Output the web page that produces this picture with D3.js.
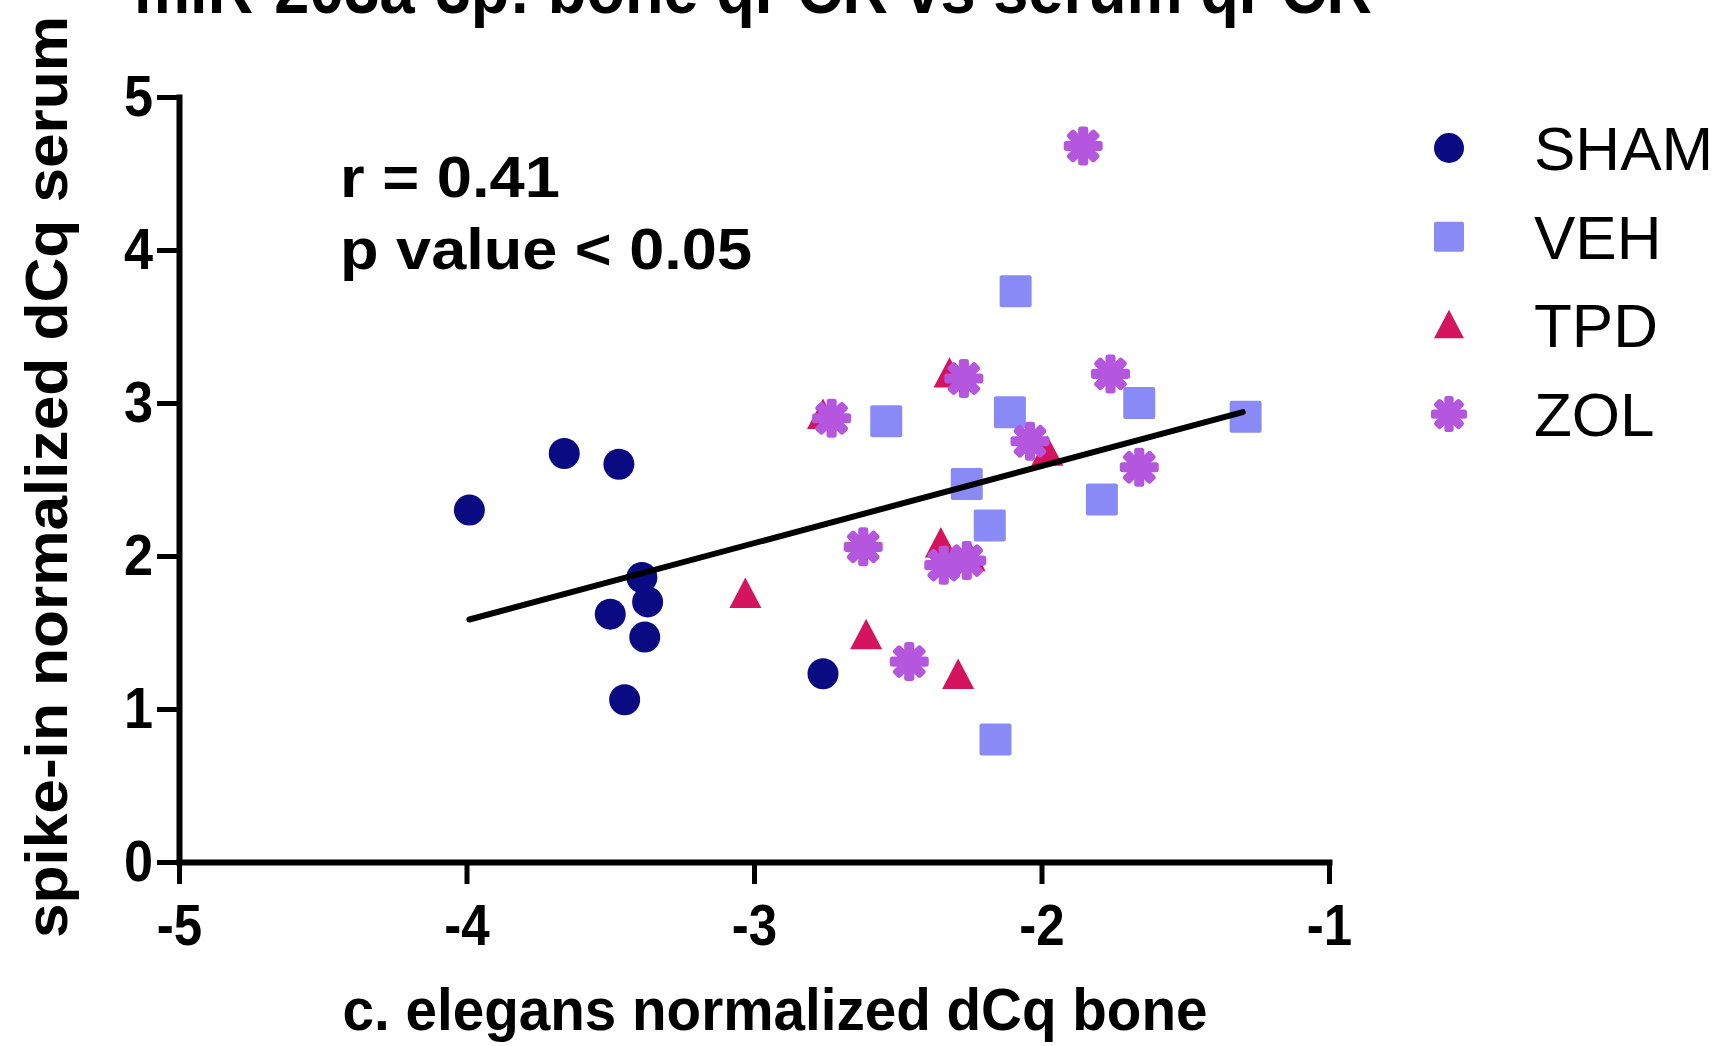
<!DOCTYPE html>
<html><head><meta charset="utf-8">
<script src="https://cdn.jsdelivr.net/npm/d3@7"></script>
<style>html,body{margin:0;padding:0;background:#fff;} svg{display:block;}</style>
</head><body>
<svg id="chart" width="1721" height="1046"></svg>
<script>
// ---------- data ----------
const groups = ["SHAM", "VEH", "TPD", "ZOL"];
const shamX = [-3.99, -3.66, -3.47, -3.39, -3.37, -3.50, -3.38, -3.45, -2.76];
const shamY = [2.30, 2.67, 2.60, 1.86, 1.70, 1.62, 1.47, 1.06, 1.23];
const vehX = [-2.09, -2.54, -2.11, -1.66, -1.29, -2.26, -1.79, -2.18, -2.16];
const vehY = [3.73, 2.88, 2.94, 3.00, 2.91, 2.47, 2.37, 2.20, 0.80];
const tpdX = [-2.76, -2.32, -1.98, -2.35, -2.25, -3.03, -2.61, -2.29];
const tpdY = [2.92, 3.19, 2.68, 2.08, 1.99, 1.75, 1.48, 1.22];
const zolX = [-1.855, -2.27, -1.76, -2.73, -2.04, -1.66, -2.62, -2.34, -2.26, -2.46];
const zolY = [4.68, 3.16, 3.19, 2.90, 2.75, 2.58, 2.06, 1.94, 1.97, 1.31];
const fitX = [-3.99, -1.30];
const fitY = [1.585, 2.94];
const xTicks = [-5, -4, -3, -2, -1];
const yTicks = [0, 1, 2, 3, 4, 5];
const titleText = "miR-203a-3p: bone qPCR vs serum qPCR";
const xLabelText = "c. elegans normalized dCq bone";
const yLabelText = "spike-in normalized dCq serum";
const statLines = ["r = 0.41", "p value < 0.05"];

// ---------- styles ----------
const colors = {SHAM: "#0A0A82", VEH: "#8A8AF6", TPD: "#D4145F", ZOL: "#B457DE"};
const FONT = "'Liberation Sans', Arial, Helvetica, sans-serif";

const svg = d3.select("#chart");
const x = d3.scaleLinear().domain([-5, -1]).range([179, 1329]);
const y = d3.scaleLinear().domain([0, 5]).range([862, 97]);

function condense(sel, f) {
  sel.each(function () {
    const L = this.getComputedTextLength();
    d3.select(this).attr("textLength", L * f).attr("lengthAdjust", "spacingAndGlyphs");
  });
}
function fitWidth(sel, w) {
  sel.attr("textLength", w).attr("lengthAdjust", "spacingAndGlyphs");
}

// ---------- title (cut at top, as in the reference) ----------
svg.append("text").attr("x", 134).attr("y", 13)
  .attr("font-family", FONT).attr("font-weight", "bold").attr("font-size", 70)
  .text(titleText).call(fitWidth, 1238);

// ---------- markers ----------
function drawMarker(g, type, color, s) {
  if (type === "SHAM") {
    g.append("circle").attr("r", s * 0.5).attr("fill", color);
  } else if (type === "VEH") {
    g.append("rect").attr("x", -s / 2).attr("y", -s / 2).attr("width", s).attr("height", s)
      .attr("rx", 2).attr("fill", color);
  } else if (type === "TPD") {
    const h = s * 0.95, b = s;
    g.append("path").attr("d", `M0,${-h * 0.55} L${b / 2},${h * 0.45} L${-b / 2},${h * 0.45} Z`).attr("fill", color);
  } else {
    const R = s * 0.5;
    for (let k = 0; k < 4; k++) {
      g.append("rect").attr("x", -R).attr("y", -s * 0.13).attr("width", 2 * R).attr("height", s * 0.26)
        .attr("rx", s * 0.07).attr("fill", color).attr("transform", `rotate(${k * 45})`);
    }
    g.append("circle").attr("r", s * 0.32).attr("fill", color);
  }
}
const sizes = {SHAM: 31, VEH: 32, TPD: 32, ZOL: 39};
const series = [
  {name: "SHAM", xs: shamX, ys: shamY},
  {name: "VEH", xs: vehX, ys: vehY},
  {name: "TPD", xs: tpdX, ys: tpdY},
  {name: "ZOL", xs: zolX, ys: zolY}
];
const plot = svg.append("g");
series.forEach(sr => {
  const pts = sr.xs.map((v, i) => ({x: v, y: sr.ys[i]}));
  plot.selectAll(null).data(pts).enter().append("g")
    .attr("transform", d => `translate(${x(d.x)},${y(d.y)})`)
    .each(function () { drawMarker(d3.select(this), sr.name, colors[sr.name], sizes[sr.name]); });
});

// ---------- regression line ----------
svg.append("path")
  .datum(fitX.map((v, i) => [v, fitY[i]]))
  .attr("d", d3.line().x(d => x(d[0])).y(d => y(d[1])))
  .attr("stroke", "#000").attr("stroke-width", 6).attr("stroke-linecap", "round").attr("fill", "none");

// ---------- axes ----------
const yAxis = svg.append("g").attr("transform", "translate(179,0)")
  .call(d3.axisLeft(y).tickValues(yTicks).tickFormat(d3.format("d")).tickSize(22).tickSizeOuter(0).tickPadding(4));
const xAxis = svg.append("g").attr("transform", "translate(0,862)")
  .call(d3.axisBottom(x).tickValues(xTicks).tickFormat(d => (d < 0 ? "-" : "") + Math.abs(d)).tickSize(22).tickSizeOuter(0).tickPadding(20));
[yAxis, xAxis].forEach(a => {
  a.select(".domain").attr("stroke", "#000").attr("stroke-width", 6).attr("stroke-linecap", "square");
  a.selectAll(".tick line").attr("stroke", "#000").attr("stroke-width", 5);
  a.selectAll(".tick text").attr("fill", "#000").attr("font-family", FONT)
    .attr("font-weight", "bold").attr("font-size", 58);
});
yAxis.selectAll(".tick text").call(condense, 0.9);
xAxis.selectAll(".tick text").call(condense, 0.88);

// ---------- axis titles ----------
svg.append("text").attr("x", 775).attr("y", 1030).attr("text-anchor", "middle")
  .attr("font-family", FONT).attr("font-weight", "bold").attr("font-size", 60)
  .text(xLabelText).call(fitWidth, 865);
svg.append("text").attr("transform", "translate(67,477) rotate(-90)").attr("text-anchor", "middle")
  .attr("font-family", FONT).attr("font-weight", "bold").attr("font-size", 60)
  .text(yLabelText).call(fitWidth, 922);

// ---------- stats annotation ----------
const statWidths = [220, 412];
svg.selectAll(null).data(statLines).enter().append("text")
  .attr("x", 340).attr("y", (d, i) => 197 + i * 72)
  .attr("font-family", FONT).attr("font-weight", "bold").attr("font-size", 57)
  .text(d => d)
  .each(function (d, i) { d3.select(this).call(fitWidth, statWidths[i]); });

// ---------- legend ----------
const legend = svg.append("g");
groups.forEach((gname, i) => {
  const cy = 148 + i * 88.7;
  const g = legend.append("g").attr("transform", `translate(1449,${cy})`);
  drawMarker(g, gname, colors[gname], gname === "ZOL" ? 36 : 30);
  legend.append("text").attr("x", 1534).attr("y", cy + 22)
    .attr("font-family", FONT).attr("font-size", 62).attr("fill", "#000").text(gname);
});
</script>
</body></html>
